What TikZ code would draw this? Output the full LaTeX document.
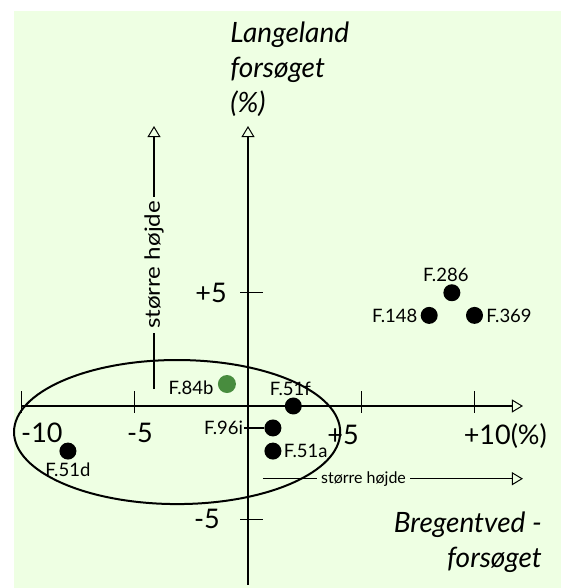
\documentclass[tikz,border=0pt]{standalone}
\usepackage{fontspec}
\setmainfont{Lato}
\usetikzlibrary{arrows.meta, positioning}
\definecolor{paper}{RGB}{238,255,227}
\definecolor{dotgreen}{RGB}{72,140,62}

\begin{document}
\begin{tikzpicture}[x=22.65pt, y=22.65pt,
		axis/.style={line width=1.2pt},
		pointer/.style={line width=1.1pt, -{Triangle[open, length=11pt, width=13pt, line width=1pt]}},
		sample/.style={circle, fill=black, inner sep=0pt, minimum size=17pt},
		samplelabel/.style={font=\fontsize{18.5}{19}\selectfont, inner sep=1pt},
		ticklabel/.style={font=\fontsize{27}{27}\selectfont, inner sep=0pt, anchor=base},
		axistitle/.style={font=\itshape\fontsize{28}{35}\selectfont, inner sep=0pt},
		hint/.style={font=\fontsize{16}{16}\selectfont, inner sep=4pt},
		ring/.style={line width=2pt}]

	\def\tickUp{0.66};
	\def\tickDown{0.3};
	\def\xTip{12.14};
	\def\yTip{12.36};

	\useasboundingbox (-248pt,-182pt) rectangle (313pt,406pt);
	\fill[paper] (-234pt,-182pt) rectangle (313pt,395pt);

	\begin{scope}
		\coordinate (xFrom) at (-10,0);
		\coordinate (xTo) at (\xTip,0);
		\coordinate (yFrom) at (0,-7.9);
		\coordinate (yTo) at (0,\yTip);
		\draw[pointer] (xFrom) -- (xTo);
		\draw[pointer] (yFrom) -- (yTo);
		\foreach \t in {-10,-5,5,10}
			\draw[axis] (\t,-\tickDown) -- (\t,\tickUp);
		\foreach \t in {-5,5}
			\draw[axis] (-0.35,\t) -- (0.66,\t);
	\end{scope}

	\begin{scope}
		\node[ticklabel] (xMinusTen) at (-9.1,-1.63) {-10};
		\node[ticklabel] (xMinusFive) at (-4.77,-1.63) {-5};
		\node[ticklabel] (xPlusFive) at (4.2,-1.68) {+5};
		\node[ticklabel] (xPlusTen) at (11.36,-1.68) {+10(\%)};
		\node[ticklabel] (yPlusFive) at (-1.63,4.55) {+5};
		\node[ticklabel] (yMinusFive) at (-1.81,-5.39) {-5};
	\end{scope}

	\node[axistitle, align=left, anchor=north west] (langeland) at (-0.79,16.95) {Langeland\\forsøget\\(\%)};
	\node[axistitle, align=right, anchor=north east] (bregentved) at (12.98,-4.65) {Bregentved -\\forsøget};

	\begin{scope}
		\coordinate (vHintFrom) at (-4.15,0.75);
		\coordinate (vHintTo) at (-4.15,\yTip);
		\node[hint, font=\fontsize{21}{21}\selectfont, rotate=90] (vHint) at (-4.15,6.23) {\scalebox{1.15}[1]{større højde}};
		\draw[axis] (vHintFrom) -- (vHint.west);
		\draw[pointer] (vHint.east) -- (vHintTo);

		\coordinate (hHintFrom) at (0.66,-3.21);
		\coordinate (hHintTo) at (\xTip,-3.21);
		\node[hint] (hHint) at (5.1,-3.21) {større højde};
		\draw[axis] (hHintFrom) -- (hHint.west);
		\draw[pointer] (hHint.east) -- (hHintTo);
	\end{scope}

	\draw[ring] (-3.13,-1.15) ellipse [x radius=7.2, y radius=3.18];

	\begin{scope}
		\node[sample] (f286) at (9,5) {};
		\node[sample] (f148) at (8,4) {};
		\node[sample] (f369) at (10,4) {};
		\node[sample, fill=dotgreen, minimum size=18pt] (f84b) at (-0.93,0.97) {};
		\node[sample] (f51f) at (2,0) {};
		\node[sample] (f96i) at (1.1,-0.97) {};
		\node[sample] (f51a) at (1.1,-1.99) {};
		\node[sample] (f51d) at (-7.95,-1.99) {};

		\node[samplelabel, above=1pt of f286, xshift=-6pt] (f286Label) {F.286};
		\node[samplelabel, left=2pt of f148] (f148Label) {F.148};
		\node[samplelabel, right=2pt of f369] (f369Label) {F.369};
		\node[samplelabel, left=3pt of f84b, yshift=-4pt] (f84bLabel) {F.84b};
		\node[samplelabel, above=0pt of f51f, xshift=-3pt] (f51fLabel) {F.51f};
		\node[samplelabel, left=20pt of f96i] (f96iLabel) {F.96i};
		\node[samplelabel, right=1pt of f51a] (f51aLabel) {F.51a};
		\node[samplelabel, below=2pt of f51d] (f51dLabel) {F.51d};
		\draw[axis] (f96iLabel) -- (f96i);
	\end{scope}
\end{tikzpicture}
\end{document}
